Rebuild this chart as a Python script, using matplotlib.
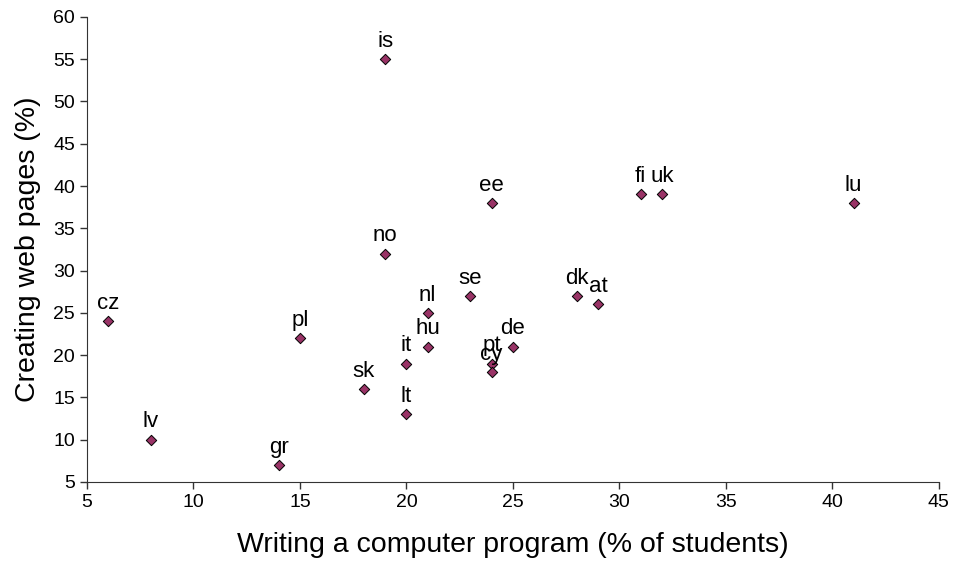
import matplotlib
matplotlib.use("Agg")
import matplotlib.pyplot as plt

plt.rcParams['font.family'] = ['Liberation Sans', 'DejaVu Sans']

# country codes and values
countries = ['cz', 'lv', 'gr', 'pl', 'sk', 'it', 'lt', 'hu', 'nl', 'no', 'is', 'se',
             'ee', 'pt', 'cy', 'de', 'dk', 'at', 'fi', 'uk', 'lu']
program = [6, 8, 14, 15, 18, 20, 20, 21, 21, 19, 19, 23,
           24, 24, 24, 25, 28, 29, 31, 32, 41]
webpages = [24, 10, 7, 22, 16, 19, 13, 21, 25, 32, 55, 27,
            38, 19, 18, 21, 27, 26, 39, 39, 38]

fig = plt.figure(figsize=(9.57, 5.65), dpi=100)
ax = fig.add_axes([0.0909, 0.147, 0.890, 0.823])

ax.scatter(program, webpages, marker='D', s=28, c='#993366', edgecolors='black', linewidths=0.7, zorder=3)

for name, x, y in zip(countries, program, webpages):
    ax.annotate(name, (x, y), xytext=(0, 8.8), textcoords='offset points',
                ha='center', va='baseline', fontsize=16)

ax.set_xlim(5, 45)
ax.set_ylim(5, 60)
ax.set_xticks(range(5, 46, 5))
ax.set_yticks(range(5, 61, 5))
ax.tick_params(labelsize=14, direction='out', length=5, width=1, colors='#333333', labelcolor='black')
ax.spines['top'].set_visible(False)
ax.spines['right'].set_visible(False)
ax.spines['left'].set_color('#333333')
ax.spines['bottom'].set_color('#333333')

ax.set_xlabel("Writing a computer program (% of students)", fontsize=20.5)
ax.set_ylabel("Creating web pages (%)", fontsize=20.5)
ax.xaxis.set_label_coords(0.5, -0.108)
ax.yaxis.set_label_coords(-0.054, 0.5)

plt.savefig("out.png", dpi=100)
